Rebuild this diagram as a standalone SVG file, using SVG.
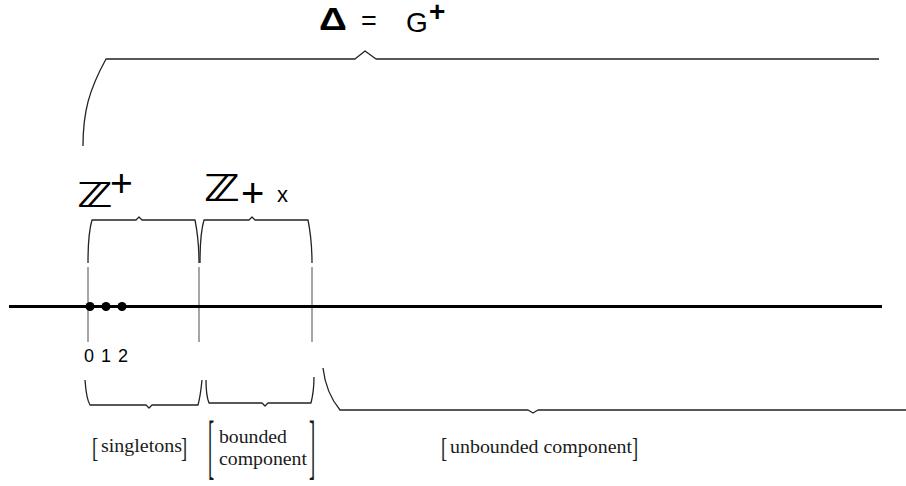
<svg xmlns="http://www.w3.org/2000/svg" width="906" height="486" viewBox="0 0 906 486">
<style>
.brace{fill:none;stroke:#222;stroke-width:1.3;stroke-linejoin:round}
.tick{stroke:#808080;stroke-width:1.4}
.sans{font-family:"Liberation Sans",Arial,sans-serif;fill:#000}
.dz{font-family:"DejaVu Sans",sans-serif;fill:#000;font-weight:bold}
.serif{font-family:"Liberation Serif","Times New Roman",serif;fill:#1a1a1a;font-size:18.5px}
</style>
<rect width="906" height="486" fill="#fff"/>
<g id="title">
<text class="sans" font-size="31" font-weight="bold" transform="translate(319,30) scale(1.25,1)">Δ</text>
<text class="sans" x="361" y="30" font-size="27">=</text>
<text class="sans" x="406" y="32" font-size="28">G</text>
<text class="sans" x="429" y="21" font-size="28" font-weight="bold">+</text>
</g>
<g id="zplus">
<text class="dz" font-size="34" transform="translate(77,207) scale(1.4,1)">ℤ</text>
<text class="sans" x="110" y="196" font-size="39">+</text>
</g>
<g id="zx">
<text class="dz" font-size="37" transform="translate(204,201) scale(1.3,1)">ℤ</text>
<text class="sans" x="241" y="207" font-size="40">+</text>
<text class="sans" x="277" y="202" font-size="22">x</text>
</g>
<g id="connectors">
<path class="brace" d="M83,146 C83,112 89,90 106,59 L355,59 L365,51 L376,59 L879,59"/>
<path class="brace" d="M88,263 C88,245 89,230 92,220 L136,220 L139,217 L142,220 L195,220 C197,230 199,245 199,263"/>
<path class="brace" d="M200,263 C200,245 201,230 204,220 L249,220 L252,217 L255,220 L308,220 C310,230 312,245 312,263"/>
<line class="tick" x1="88" y1="267" x2="88" y2="342"/>
<line class="tick" x1="199" y1="267" x2="199" y2="342"/>
<line class="tick" x1="312" y1="267" x2="312" y2="342"/>
<line x1="9" y1="306.5" x2="882" y2="306.5" stroke="#000" stroke-width="3"/>
<path class="brace" d="M85,380 C86,394 87,400 90,405 L146,405 L149,408 L152,405 L198,405 C200,398 201,390 202,380"/>
<path class="brace" d="M206,380 C206,392 207,398 209,403 L262,403 L265,406 L268,403 L311,403 C313,395 314,388 314,377"/>
<path class="brace" d="M323,368 C325,385 330,398 340,410 L528,410 L533,413 L538,410 L906,410"/>
</g>
<g id="points">
<circle cx="90" cy="306.5" r="4.5" fill="#000"/>
<circle cx="106" cy="306.5" r="4.5" fill="#000"/>
<circle cx="122" cy="306.5" r="4.5" fill="#000"/>
<text class="sans" x="89" y="362" font-size="18" text-anchor="middle">0</text>
<text class="sans" x="106" y="362" font-size="18" text-anchor="middle">1</text>
<text class="sans" x="123" y="362" font-size="18" text-anchor="middle">2</text>
</g>
<g id="singletons">
<text class="serif" font-size="25" transform="translate(92,456.6) scale(1,1.44)">[</text>
<text class="serif" x="101" y="452" textLength="81" lengthAdjust="spacingAndGlyphs">singletons</text>
<text class="serif" font-size="25" transform="translate(181,456.6) scale(1,1.44)">]</text>
</g>
<g id="bounded">
<text class="serif" font-size="25" transform="translate(208,469.8) scale(1,3.92)">[</text>
<text class="serif" x="219" y="443" textLength="68" lengthAdjust="spacingAndGlyphs">bounded</text>
<text class="serif" x="219" y="465" textLength="88" lengthAdjust="spacingAndGlyphs">component</text>
<text class="serif" font-size="25" transform="translate(309,469.8) scale(1,3.92)">]</text>
</g>
<g id="unbounded">
<text class="serif" font-size="25" transform="translate(441,456.6) scale(1,1.44)">[</text>
<text class="serif" x="450" y="453" textLength="182" lengthAdjust="spacingAndGlyphs">unbounded component</text>
<text class="serif" font-size="25" transform="translate(632,456.6) scale(1,1.44)">]</text>
</g>
</svg>
